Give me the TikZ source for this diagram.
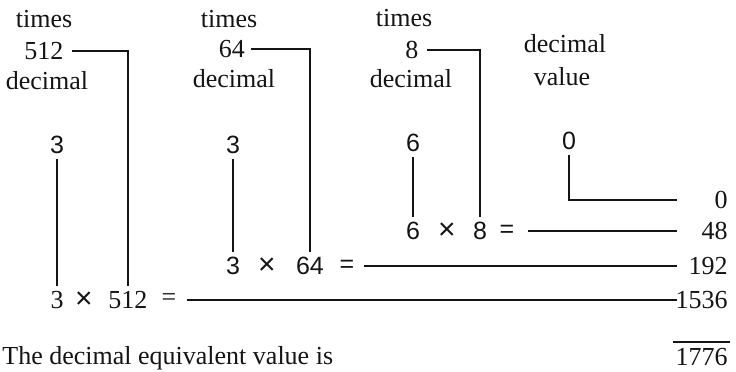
\documentclass[tikz,border=0pt]{standalone}
\usepackage{fontspec}
\setmainfont{Liberation Serif}
\newfontfamily\digitfont{Liberation Sans}
\usetikzlibrary{positioning,calc}
\definecolor{octaldark}{RGB}{20,20,20}
\newcommand{\bigtimes}{\scalebox{1.2}{×}}
\tikzset{
  head text/.style={
    inner sep=1pt,
    font=\fontsize{13}{15}\selectfont,
    text=octaldark,
  },
  digit text/.style={
    inner sep=2.5pt,
    font=\digitfont\fontsize{12.5}{15}\selectfont,
    text=octaldark,
  },
  result text/.style={
    inner sep=1pt,
    anchor=east,
    font=\fontsize{13}{15}\selectfont,
    text=octaldark,
  },
  octal line/.style={
    line width=0.8pt,
    draw=octaldark,
  },
}

\begin{document}
\begin{tikzpicture}[x=0.5pt,y=-0.5pt]
  \useasboundingbox (0,0) rectangle (736,371);

  % Header labels
  \node[head text] (times1) at (44,19) {times};
  \node[head text] (mult1) at (44,51) {512};
  \node[head text] (dec1) at (47,81) {decimal};
  \node[head text] (times2) at (229,19) {times};
  \node[head text] (mult2) at (232,49) {64};
  \node[head text] (dec2) at (234,79) {decimal};
  \node[head text] (times3) at (404,18) {times};
  \node[head text] (mult3) at (412,50) {8};
  \node[head text] (dec3) at (411,79) {decimal};
  \node[head text] (val1) at (565,44) {decimal};
  \node[head text] (val2) at (562,77) {value};

  % Octal digits
  \node[digit text] (dig1) at (57,145) {3};
  \node[digit text] (dig2) at (233,145) {3};
  \node[digit text] (dig3) at (413,143) {6};
  \node[digit text] (dig4) at (569,141) {0};

  % Products
  \node[digit text] (fac3) at (413,231) {6};
  \node[digit text] (x3) at (447,231) {\bigtimes};
  \node[digit text] (base3) at (480,231) {8};
  \node[digit text] (eq3) at (507,231) {=};
  \node[digit text] (fac2) at (233,266) {3};
  \node[digit text] (x2) at (267,266) {\bigtimes};
  \node[digit text] (base2) at (310,266) {64};
  \node[digit text] (eq2) at (347,266) {=};
  \node[head text, inner sep=2.5pt] (fac1) at (57,300) {3};
  \node[digit text] (x1) at (84,300) {\bigtimes};
  \node[head text, inner sep=2.5pt] (base1) at (128,300) {512};
  \node[head text] (eq1) at (169,300) {=};

  % Results
  \coordinate (rcol) at (677,0);
  \node[result text] (res0) at (730,200) {0};
  \node[result text] (res3) at (730,231) {48};
  \node[result text] (res2) at (730,266) {192};
  \node[result text] (res1) at (730,300) {1536};
  \node[result text] (sum) at (730,357) {1776};
  \node[head text, anchor=west] (total) at (0,358) {The decimal equivalent value is};

  % Connectors
  \draw[octal line] ([xshift=3pt]mult1.east) -| (base1.north);
  \draw[octal line] ([xshift=2pt]mult2.east) -| (base2.north);
  \draw[octal line] ([xshift=3pt]mult3.east) -| (base3.north);
  \draw[octal line] (dig1.south) -- (fac1.north);
  \draw[octal line] (dig2.south) -- (fac2.north);
  \draw[octal line] (dig3.south) -- (fac3.north);
  \draw[octal line] (dig4.south) |- (res0.west -| rcol);
  \draw[octal line] ([xshift=4pt]eq3.east) -- (eq3.east -| rcol);
  \draw[octal line] ([xshift=2pt]eq2.east) -- (eq2.east -| rcol);
  \draw[octal line] ([xshift=4pt]eq1.east) -- (eq1.east -| rcol);
  \draw[octal line] ([yshift=2pt]sum.north west) -- ([yshift=2pt]sum.north east);
\end{tikzpicture}
\end{document}
